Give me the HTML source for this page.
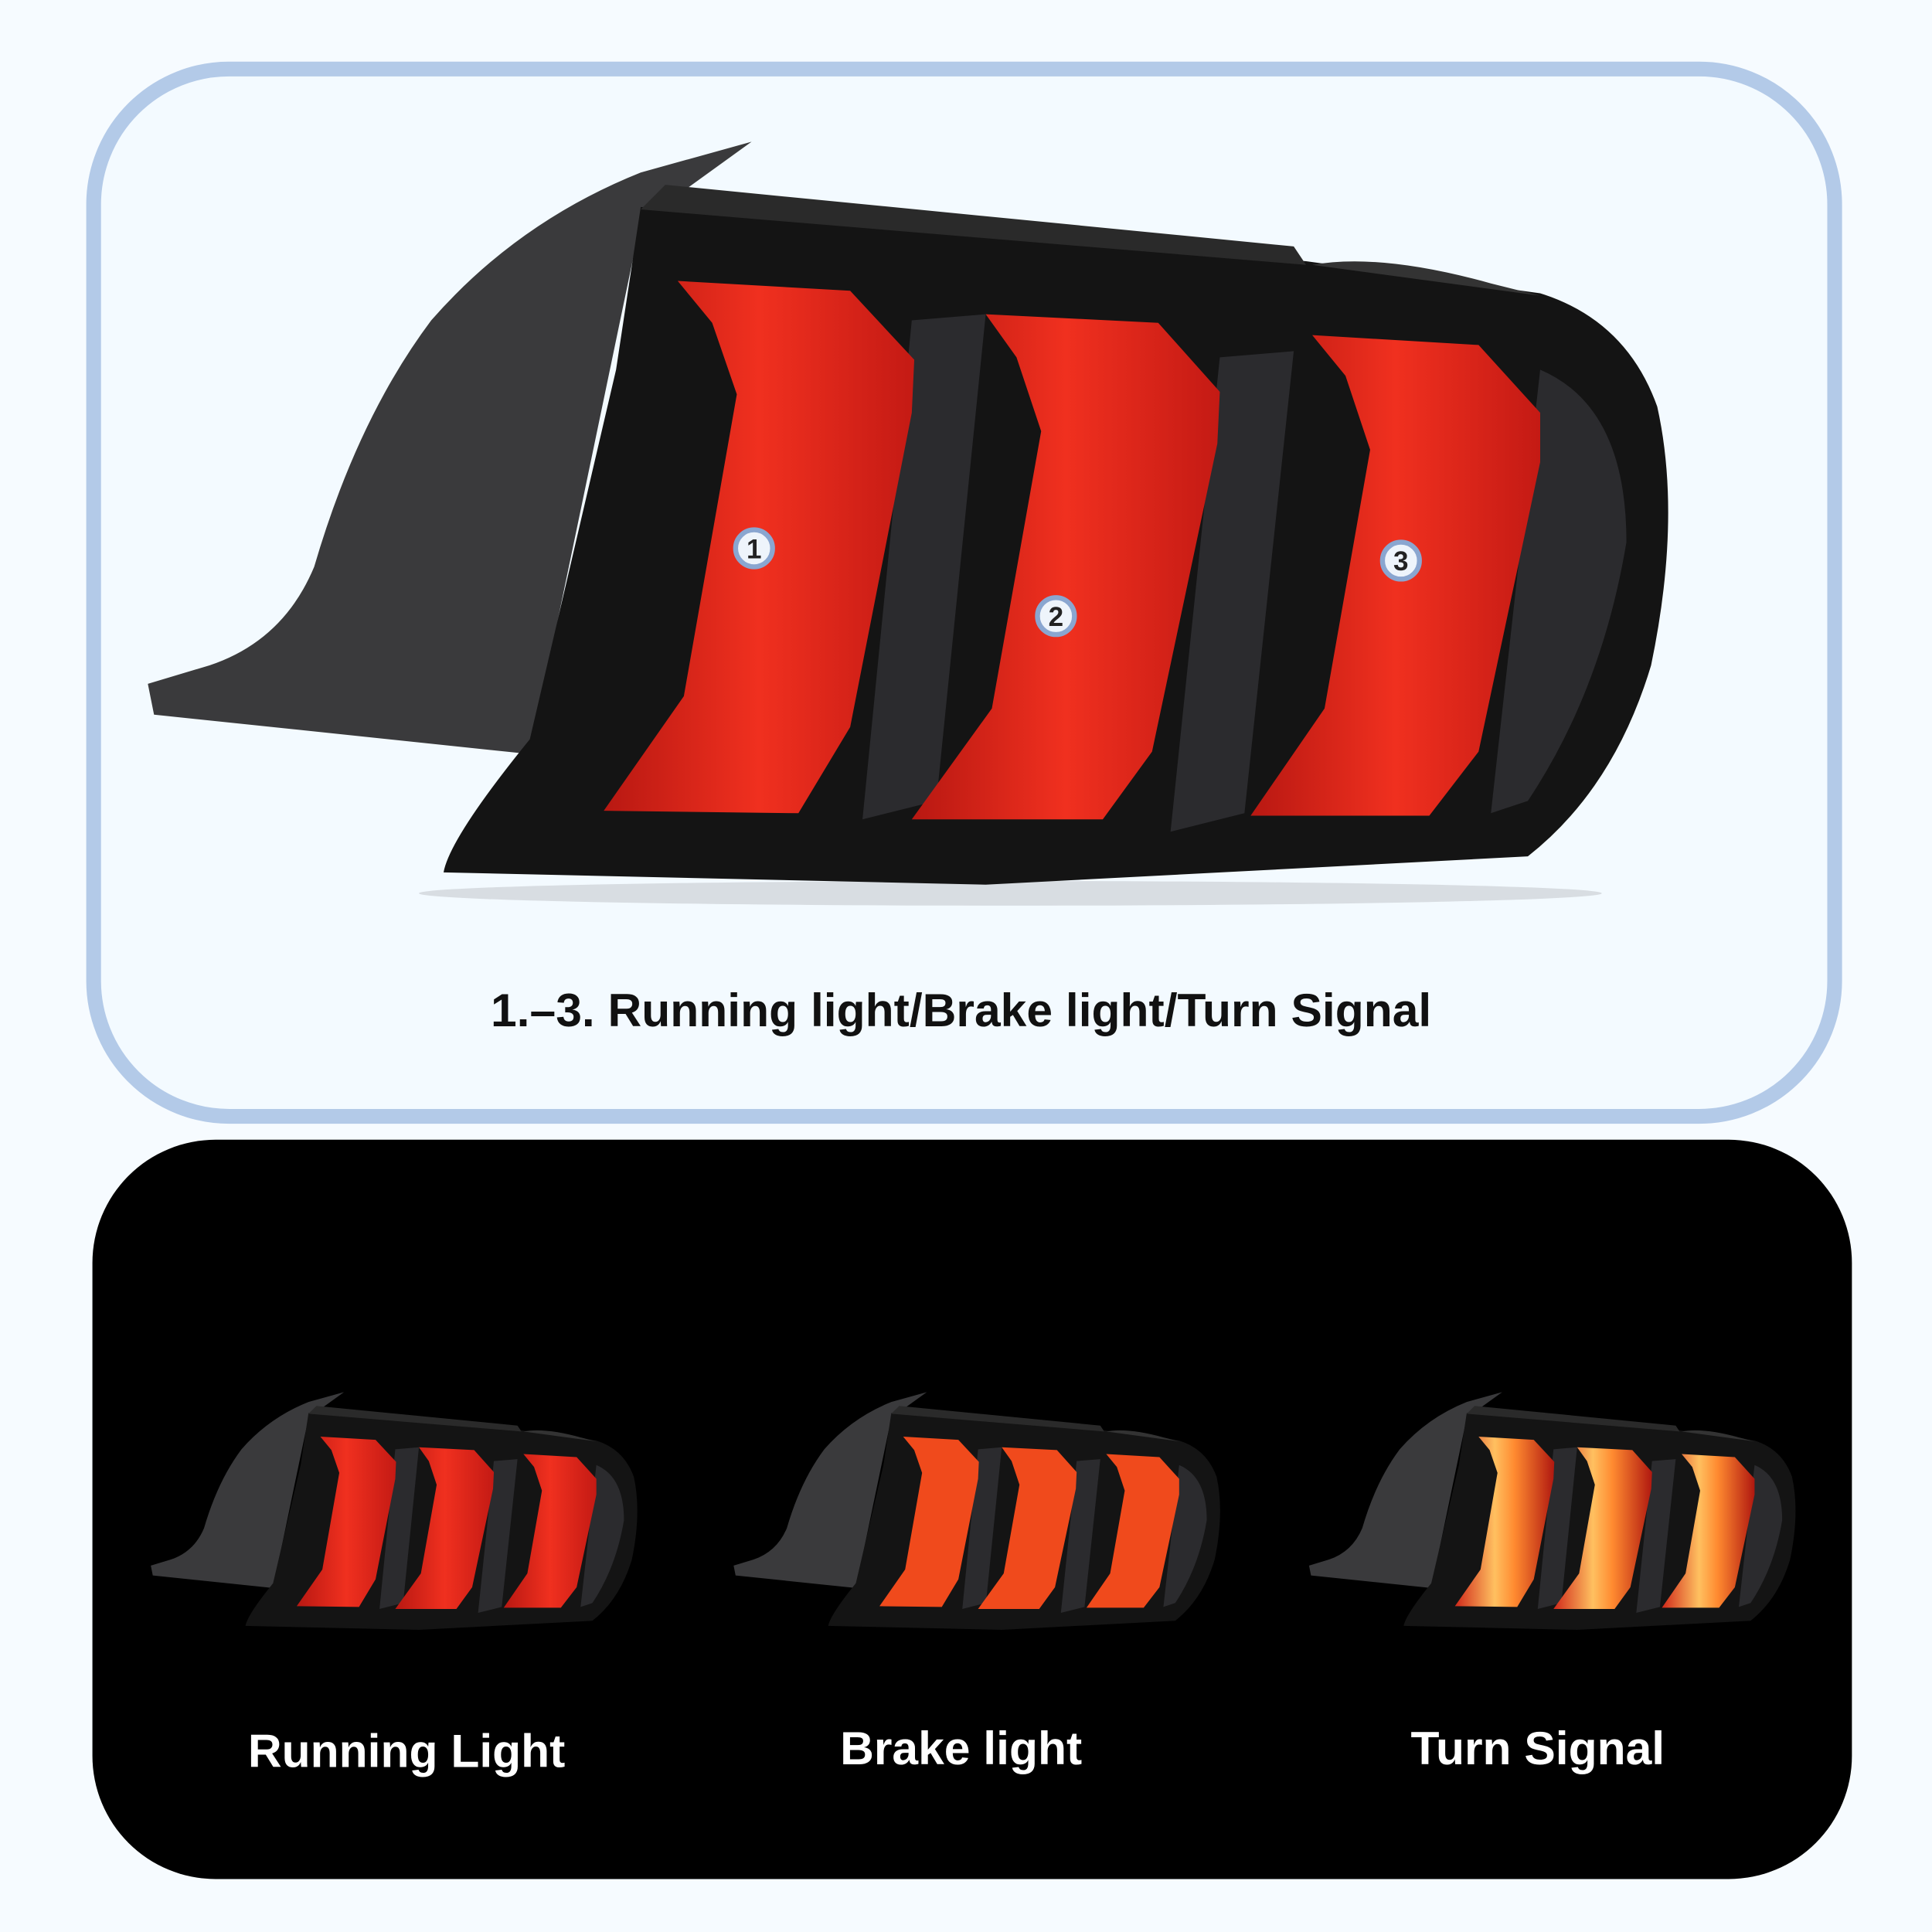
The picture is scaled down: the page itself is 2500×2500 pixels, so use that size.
<!DOCTYPE html>
<html><head><meta charset="utf-8"><style>
html,body{margin:0;padding:0;background:#f6fbff;}
svg{display:block}
text{font-family:"Liberation Sans",sans-serif;font-weight:bold}
</style></head><body>
<svg width="2500" height="2500" viewBox="0 0 1568 1568" xmlns="http://www.w3.org/2000/svg">
<defs>
<linearGradient id="red" x1="0" y1="0" x2="1" y2="0">
<stop offset="0" stop-color="#b81812"/><stop offset="0.5" stop-color="#f0301f"/><stop offset="1" stop-color="#c41a14"/>
</linearGradient>
<linearGradient id="yel" x1="0" y1="0" x2="1" y2="0">
<stop offset="0" stop-color="#d0281a"/><stop offset="0.4" stop-color="#ffc060"/><stop offset="0.6" stop-color="#ff8a30"/><stop offset="1" stop-color="#b01810"/>
</linearGradient>
<g id="body">
<path d="M610,115 L520,140 Q420,180 350,260 Q290,340 255,460 Q230,520 170,540 L120,555 L125,580 L430,612 L520,180 Z" fill="#3a3a3c"/>
<path d="M520,168 L1060,212 L1250,238 Q1320,260 1345,330 Q1365,420 1340,540 Q1310,640 1240,695 L800,718 L360,708 Q365,680 430,600 L500,300 Z" fill="#141414"/>
<path d="M540,150 L1050,200 L1060,215 L520,170 Z" fill="#2a2a2a"/>
<path d="M1065,215 Q1120,205 1210,230 L1250,240 Z" fill="#333"/>
<g fill="#2b2b2e">
<path d="M740,260 L800,255 L760,650 L700,665 Z"/>
<path d="M990,290 L1050,285 L1010,660 L950,675 Z"/>
<path d="M1250,300 Q1320,330 1320,440 Q1300,560 1240,650 L1210,660 Z"/>
</g>
</g>
<g id="bars">
<path d="M550,228 L690,236 L742,292 L740,335 L690,590 L648,660 L490,658 L555,565 L598,320 L578,262 Z"/>
<path d="M800,255 L940,262 L990,318 L988,360 L935,610 L895,665 L740,665 L805,575 L845,350 L825,290 Z"/>
<path d="M1065,272 L1200,280 L1250,335 L1250,375 L1200,610 L1160,662 L1015,662 L1075,575 L1112,365 L1092,305 Z"/>
</g>
</defs>
<rect width="1568" height="1568" fill="#f6fbff"/>
<rect x="76" y="56" width="1413" height="850" rx="110" fill="#f3faff" stroke="#b3cae8" stroke-width="12"/>
<rect x="75" y="925" width="1428" height="600" rx="100" fill="#000"/>
<ellipse cx="820" cy="725" rx="480" ry="10" fill="#d8dde2"/>
<use href="#body"/>
<use href="#bars" fill="url(#red)"/>
<g font-size="22" text-anchor="middle">
<circle cx="612" cy="445" r="15" fill="#eef4fb" stroke="#8aa6d0" stroke-width="4"/><text x="612" y="453" fill="#222">1</text>
<circle cx="857" cy="500" r="15" fill="#eef4fb" stroke="#8aa6d0" stroke-width="4"/><text x="857" y="508" fill="#222">2</text>
<circle cx="1137" cy="455" r="15" fill="#eef4fb" stroke="#8aa6d0" stroke-width="4"/><text x="1137" y="463" fill="#222">3</text>
</g>
<text x="780" y="833" font-size="38" text-anchor="middle" fill="#111">1.–3. Running light/Brake light/Turn Signal</text>
<g transform="translate(84,1093) scale(0.32)"><use href="#body"/><use href="#bars" fill="url(#red)"/></g>
<g transform="translate(557,1093) scale(0.32)"><use href="#body"/><use href="#bars" fill="#f04a1c"/></g>
<g transform="translate(1024,1093) scale(0.32)"><use href="#body"/><use href="#bars" fill="url(#yel)"/></g>
<g font-size="38" text-anchor="middle" fill="#fff">
<text x="330" y="1434">Running Light</text>
<text x="780" y="1432">Brake light</text>
<text x="1248" y="1432">Turn Signal</text>
</g>
</svg>
</body></html>
